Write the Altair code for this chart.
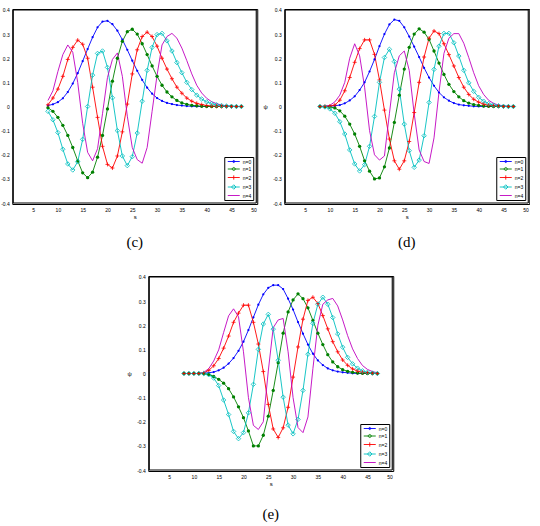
import altair as alt
import pandas as pd

# ---------------- data ----------------
S_VALUES = list(range(8, 48))
LABELS = ["n=0", "n=1", "n=2", "n=3", "n=4"]
COLORS = ["#0000ff", "#008000", "#ff0000", "#00bfbf", "#bf00bf"]
X_TICKS = [5, 10, 15, 20, 25, 30, 35, 40, 45, 50]
Y_TICKS = [-0.4, -0.3, -0.2, -0.1, 0.0, 0.1, 0.2, 0.3, 0.4]
X_BOX = [1, 50]
Y_BOX = [-0.4, 0.4]
X_DOMAIN = [0.8, 50.2]
Y_DOMAIN = [-0.404, 0.404]

# panel (c)
c_n0 = [0.004, 0.009, 0.018, 0.034, 0.060, 0.095, 0.138, 0.188, 0.238, 0.287,
        0.328, 0.352, 0.355, 0.341, 0.314, 0.277, 0.235, 0.190, 0.148, 0.110,
        0.078, 0.053, 0.035, 0.023, 0.015, 0.010, 0.006, 0.004, 0.002, 0.001,
        0, 0, 0, 0, 0, 0, 0, 0, 0, 0]
c_n1 = [-0.005, -0.020, -0.045, -0.078, -0.120, -0.170, -0.225, -0.275, -0.295, -0.272,
        -0.210, -0.120, -0.010, 0.105, 0.200, 0.270, 0.310, 0.320, 0.300, 0.260,
        0.215, 0.168, 0.125, 0.088, 0.060, 0.040, 0.025, 0.015, 0.009, 0.005,
        0.003, 0.001, 0, 0, 0, 0, 0, 0, 0, 0]
c_n2 = [0.007, 0.035, 0.072, 0.125, 0.195, 0.245, 0.275, 0.258, 0.200, 0.080,
        -0.045, -0.165, -0.240, -0.255, -0.205, -0.105, 0.010, 0.135, 0.235, 0.290,
        0.308, 0.290, 0.250, 0.200, 0.155, 0.115, 0.080, 0.055, 0.035, 0.022,
        0.013, 0.008, 0.004, 0.002, 0.001, 0, 0, 0, 0, 0]
c_n3 = [-0.020, -0.055, -0.108, -0.177, -0.238, -0.263, -0.229, -0.136, 0.000, 0.130,
        0.220, 0.230, 0.162, 0.036, -0.100, -0.205, -0.245, -0.208, -0.110, 0.022,
        0.150, 0.245, 0.298, 0.303, 0.272, 0.230, 0.182, 0.140, 0.100, 0.070,
        0.047, 0.031, 0.019, 0.012, 0.007, 0.004, 0.002, 0.001, 0, 0]
c_n4 = [0.025, 0.065, 0.145, 0.215, 0.255, 0.225, 0.100, -0.070, -0.190, -0.225,
        -0.175, -0.030, 0.120, 0.195, 0.222, 0.125, -0.040, -0.170, -0.220, -0.235,
        -0.170, -0.020, 0.130, 0.255, 0.290, 0.303, 0.283, 0.242, 0.190, 0.135,
        0.088, 0.056, 0.034, 0.020, 0.012, 0.006, 0.003, 0.001, 0, 0]

# panel (d)
d_n0 = [0, 0, 0.001, 0.003, 0.006, 0.013, 0.025, 0.042, 0.068, 0.100,
        0.145, 0.195, 0.250, 0.300, 0.340, 0.360, 0.355, 0.328, 0.290, 0.248,
        0.205, 0.160, 0.120, 0.086, 0.058, 0.038, 0.024, 0.014, 0.008, 0.005,
        0.003, 0.001, 0, 0, 0, 0, 0, 0, 0, 0]
d_n1 = [0, -0.001, -0.002, -0.006, -0.018, -0.040, -0.073, -0.114, -0.165, -0.225,
        -0.268, -0.300, -0.296, -0.250, -0.172, -0.066, 0.047, 0.155, 0.245, 0.300,
        0.322, 0.308, 0.278, 0.230, 0.180, 0.133, 0.092, 0.062, 0.040, 0.024,
        0.014, 0.008, 0.005, 0.002, 0.001, 0, 0, 0, 0, 0]
d_n2 = [0, 0.001, 0.002, 0.006, 0.026, 0.065, 0.120, 0.183, 0.240, 0.276,
        0.276, 0.216, 0.110, -0.015, -0.135, -0.225, -0.260, -0.225, -0.145, -0.025,
        0.100, 0.205, 0.283, 0.313, 0.302, 0.260, 0.215, 0.168, 0.120, 0.080,
        0.050, 0.030, 0.018, 0.010, 0.005, 0.003, 0.001, 0, 0, 0]
d_n3 = [0, -0.002, -0.010, -0.028, -0.063, -0.114, -0.180, -0.238, -0.267, -0.241,
        -0.165, -0.041, 0.100, 0.203, 0.237, 0.186, 0.072, -0.073, -0.183, -0.252,
        -0.222, -0.121, 0.017, 0.154, 0.250, 0.303, 0.303, 0.264, 0.209, 0.150,
        0.098, 0.063, 0.038, 0.022, 0.012, 0.006, 0.003, 0.001, 0, 0]
d_n4 = [0, 0.001, 0.005, 0.019, 0.047, 0.100, 0.200, 0.260, 0.210, 0.080,
        -0.100, -0.200, -0.222, -0.205, -0.030, 0.140, 0.210, 0.230, 0.150, -0.030,
        -0.180, -0.228, -0.236, -0.130, 0.060, 0.220, 0.283, 0.302, 0.302, 0.262,
        0.203, 0.140, 0.086, 0.050, 0.026, 0.013, 0.006, 0.003, 0.001, 0]

# panel (e)
e_n0 = [0, 0, 0, 0, 0.001, 0.003, 0.006, 0.013, 0.024, 0.041,
        0.064, 0.094, 0.132, 0.180, 0.233, 0.285, 0.328, 0.355, 0.366, 0.366,
        0.350, 0.310, 0.265, 0.213, 0.165, 0.120, 0.082, 0.054, 0.035, 0.021,
        0.013, 0.008, 0.005, 0.003, 0.001, 0, 0, 0, 0, 0]
e_n1 = [0, 0, 0, 0, -0.001, -0.004, -0.012, -0.024, -0.040, -0.063,
        -0.097, -0.138, -0.183, -0.238, -0.300, -0.300, -0.256, -0.177, -0.070, 0.045,
        0.167, 0.255, 0.305, 0.330, 0.310, 0.272, 0.220, 0.167, 0.120, 0.078,
        0.048, 0.028, 0.016, 0.009, 0.005, 0.002, 0.001, 0, 0, 0]
e_n2 = [0, 0, 0, 0, 0.003, 0.013, 0.032, 0.062, 0.105, 0.155,
        0.212, 0.250, 0.283, 0.283, 0.212, 0.122, 0.008, -0.128, -0.230, -0.265,
        -0.225, -0.140, -0.015, 0.110, 0.225, 0.303, 0.316, 0.290, 0.240, 0.185,
        0.132, 0.090, 0.056, 0.034, 0.019, 0.010, 0.005, 0.002, 0.001, 0]
e_n3 = [0, 0, 0, 0, 0, -0.005, -0.019, -0.050, -0.110, -0.170,
        -0.240, -0.270, -0.245, -0.163, -0.045, 0.100, 0.205, 0.245, 0.184, 0.055,
        -0.098, -0.214, -0.250, -0.190, -0.070, 0.080, 0.208, 0.287, 0.316, 0.287,
        0.232, 0.164, 0.109, 0.067, 0.040, 0.022, 0.011, 0.005, 0.002, 0]
e_n4 = [0, 0, 0, 0, 0.005, 0.020, 0.052, 0.098, 0.170, 0.239,
        0.268, 0.235, 0.090, -0.100, -0.215, -0.232, -0.200, 0.010, 0.190, 0.222,
        0.228, 0.090, -0.100, -0.224, -0.245, -0.180, 0.020, 0.200, 0.287, 0.305,
        0.311, 0.280, 0.222, 0.157, 0.102, 0.062, 0.033, 0.017, 0.008, 0.003]

PANEL_C = [c_n0, c_n1, c_n2, c_n3, c_n4]
PANEL_D = [d_n0, d_n1, d_n2, d_n3, d_n4]
PANEL_E = [e_n0, e_n1, e_n2, e_n3, e_n4]

# legend glyphs: a short line with the series marker
LEGEND_PATHS = [
    "M-2.4,0H2.4M-0.42,0A0.42,0.42 0 1,0 0.42,0A0.42,0.42 0 1,0 -0.42,0",
    "M-2.4,0H2.4M-0.6,0A0.6,0.6 0 1,0 0.6,0A0.6,0.6 0 1,0 -0.6,0",
    "M-2.4,0H2.4M0,-0.85V0.85",
    "M-2.4,0H2.4M-0.9,0L0,-0.9L0.9,0L0,0.9Z",
    "M-2.4,0H2.4",
]

SANS = "Liberation Sans"
SERIF = "Liberation Serif"
YLABEL_EXPR = "replace(format(datum.value, '.1~f'), '\u2212', '-')"


def long_df(series):
    rows = []
    for lab, vals in zip(LABELS, series):
        for s, v in zip(S_VALUES, vals):
            rows.append({"s": s, "psi": v, "lab": lab})
    return pd.DataFrame(rows)


def panel(series, caption, show_ytitle, cap_offset):
    df = long_df(series)
    base = alt.Chart(df)
    xscale = alt.Scale(domain=X_DOMAIN, nice=False, zero=False)
    yscale = alt.Scale(domain=Y_DOMAIN, nice=False)

    xaxis = alt.Axis(values=X_TICKS, format="d", title="s", titlePadding=1)
    if show_ytitle:
        yaxis = alt.Axis(values=Y_TICKS, labelExpr=YLABEL_EXPR, title="\u03c8",
                         titleAngle=0, titleX=-19, titleY=97,
                         titleAlign="center", titleBaseline="middle")
    else:
        yaxis = alt.Axis(values=Y_TICKS, labelExpr=YLABEL_EXPR, title=None)
    xe = alt.X("s:Q", scale=xscale, axis=xaxis)
    ye = alt.Y("psi:Q", scale=yscale, axis=yaxis)

    cscale = alt.Scale(domain=LABELS, range=COLORS)
    col = alt.Color("lab:N", scale=cscale, legend=None)

    # box around the plotting area (slightly inside the scale range)
    hbox = alt.Chart(pd.DataFrame({"psi": Y_BOX})).mark_rule(
        color="black", strokeWidth=1.1
    ).encode(y=ye, x=alt.X("x0:Q", scale=xscale, axis=xaxis),
             x2=alt.X2("x1:Q")).transform_calculate(
        x0=str(X_BOX[0]), x1=str(X_BOX[1])
    )
    vbox = alt.Chart(pd.DataFrame({"s": X_BOX})).mark_rule(
        color="black", strokeWidth=1.1
    ).encode(x=xe, y=alt.Y("y0:Q", scale=yscale, axis=yaxis),
             y2=alt.Y2("y1:Q")).transform_calculate(
        y0=str(Y_BOX[0]), y1=str(Y_BOX[1])
    )

    lines = base.mark_line(strokeWidth=0.9).encode(x=xe, y=ye, color=col)

    p0 = base.transform_filter(alt.datum.lab == "n=0").mark_point(
        shape="circle", filled=True, size=5, opacity=1
    ).encode(x=xe, y=ye, color=col)
    p1 = base.transform_filter(alt.datum.lab == "n=1").mark_point(
        shape="circle", filled=True, size=11, opacity=1
    ).encode(x=xe, y=ye, color=col)
    p2 = base.transform_filter(alt.datum.lab == "n=2").mark_point(
        shape="M-1,0H1M0,-1V1", filled=False, size=16, strokeWidth=0.8, opacity=1
    ).encode(x=xe, y=ye, color=col)
    p3 = base.transform_filter(alt.datum.lab == "n=3").mark_point(
        shape="diamond", filled=False, size=20, strokeWidth=0.8, opacity=1
    ).encode(x=xe, y=ye, color=col)

    leg_props = dict(
        title=None,
        orient="bottom-right",
        offset=4,
        padding=1.5,
        strokeColor="black",
        fillColor="white",
        labelFont=SANS,
        labelFontSize=5,
        labelColor="black",
        labelOffset=6,
        symbolOffset=5,
        symbolSize=25,
        symbolStrokeWidth=0.9,
        symbolOpacity=1,
        rowPadding=0.5,
    )
    leg = base.mark_point(opacity=0, filled=False).encode(
        x=xe,
        y=ye,
        color=alt.Color("lab:N", scale=cscale, legend=alt.Legend(**leg_props)),
        shape=alt.Shape(
            "lab:N",
            scale=alt.Scale(domain=LABELS, range=LEGEND_PATHS),
            legend=alt.Legend(**leg_props),
        ),
    )
    return (
        alt.layer(lines, p0, p1, p2, p3, leg, hbox, vbox)
        .resolve_legend(color="independent", shape="independent")
        .properties(
            width=245,
            height=195,
            title=alt.TitleParams(
                caption,
                orient="bottom",
                anchor="middle",
                frame="group",
                font=SERIF,
                fontSize=15,
                fontWeight="normal",
                offset=cap_offset,
                color="black",
            ),
        )
    )


pc = panel(PANEL_C, "(c)", False, 16)
pd_ = panel(PANEL_D, "(d)", True, 16)
pe = panel(PANEL_E, "(e)", True, 21)

top = alt.hconcat(pc, pd_, spacing=4).resolve_scale(
    color="independent", shape="independent"
).resolve_legend(color="independent", shape="independent")

chart = (
    alt.vconcat(top, pe, spacing=23, center=True)
    .resolve_scale(color="independent", shape="independent")
    .resolve_legend(color="independent", shape="independent")
    .properties(padding={"left": 0, "right": 0, "top": 7, "bottom": 0}, background="white")
    .configure_view(stroke="black", strokeWidth=1)
    .configure_axis(
        grid=False,
        ticks=False,
        domain=False,
        labelFont=SANS,
        labelFontSize=5,
        labelColor="black",
        labelPadding=3,
        titleFont=SANS,
        titleFontSize=6,
        titleFontWeight="normal",
        titleColor="black",
    )
)

chart.save("out.html", embed_options={"renderer": "svg", "actions": False})
